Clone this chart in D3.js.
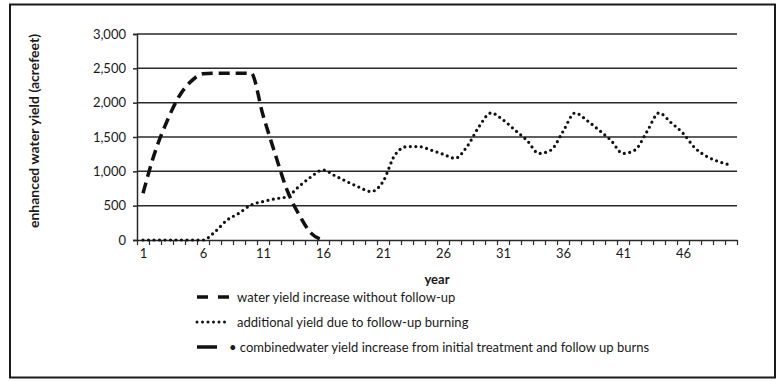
<!DOCTYPE html>
<html>
<head>
<meta charset="utf-8">
<script src="https://cdn.jsdelivr.net/npm/d3@7"></script>
<style>
  body { margin: 0; background: #fff; }
  svg text { font-family: Lato, "Liberation Sans", sans-serif; fill: #1a1a1a; }
</style>
</head>
<body>
<div id="chartDiv"></div>
<script>
// Data
const years = d3.range(1, 51);
const labelYears = [1, 6, 11, 16, 21, 26, 31, 36, 41, 46];
const yTicks = [0, 500, 1000, 1500, 2000, 2500, 3000];

// water yield increase without follow-up (years 1..16)
const noFollowUp = [680, 1280, 1730, 2090, 2310, 2420, 2430, 2430, 2430, 2430,
                    1820, 1260, 730, 370, 100, 0];

// additional yield due to follow-up burning (years 1..50)
const followUp = [0, 0, 0, 0, 0, 0, 120, 290, 390, 510,
                  560, 600, 630, 780, 920, 1020, 935, 850, 770, 705,
                  850, 1240, 1360, 1360, 1310, 1250, 1190, 1360, 1650, 1850,
                  1750, 1600, 1450, 1260, 1310, 1580, 1850, 1740, 1600, 1450,
                  1260, 1310, 1580, 1850, 1710, 1555, 1340, 1215, 1140, 1090];

const legendItems = [
  {label: "water yield increase without follow-up", dash: "11,10,11,100", cap: "butt", width: 3.5},
  {label: "additional yield due to follow-up burning", dash: "0,5.5", cap: "round", width: 3},
  {label: "\u2022 combinedwater yield increase from initial treatment and follow up burns", dash: "20,100", cap: "butt", width: 3.5}
];

const width = 778, height = 382;
const margin = {top: 34, right: 41, bottom: 142, left: 137};

let svg = d3.select("#chartDiv")
  .append("svg")
  .attr("width", width)
  .attr("height", height);

// outer frame
svg.append("rect")
  .attr("x", 10).attr("y", 4.5)
  .attr("width", 765).attr("height", 373)
  .attr("fill", "none")
  .attr("stroke", "#1a1a1a")
  .attr("stroke-width", 2);

let scaleX = d3.scaleLinear()
  .domain([0.5, 50.5])
  .range([margin.left, width - margin.right]);
let scaleY = d3.scaleLinear()
  .domain([0, 3000])
  .range([height - margin.bottom, margin.top]);

// gridlines
svg.append("g")
  .selectAll("line")
  .data(yTicks.slice(1))
  .enter()
  .append("line")
    .attr("x1", scaleX(0.5))
    .attr("x2", scaleX(50.5))
    .attr("y1", d => scaleY(d))
    .attr("y2", d => scaleY(d))
    .attr("stroke", "#2a2a2a")
    .attr("stroke-width", 1.5);

// y axis
let yAxis = svg.append("g")
  .attr("transform", "translate(" + margin.left + ",0)")
  .call(d3.axisLeft(scaleY).tickValues(yTicks).tickSize(4).tickPadding(7).tickFormat(d3.format(",")));
yAxis.select(".domain").attr("stroke", "#2a2a2a").attr("stroke-width", 1.5);
yAxis.selectAll(".tick line").attr("stroke", "#2a2a2a").attr("stroke-width", 1.5);
yAxis.selectAll("text").style("font-size", "13px");

// x axis: tick marks between categories
let xTicks = svg.append("g")
  .attr("transform", "translate(0," + scaleY(0) + ")")
  .call(d3.axisBottom(scaleX).tickValues(d3.range(0.5, 51, 1)).tickSize(5).tickSizeOuter(0).tickFormat(""));
xTicks.select(".domain").attr("stroke", "#2a2a2a").attr("stroke-width", 1.5);
xTicks.selectAll(".tick line").attr("stroke", "#2a2a2a").attr("stroke-width", 1.2);

// x labels
let xLabels = svg.append("g")
  .attr("transform", "translate(0," + scaleY(0) + ")")
  .call(d3.axisBottom(scaleX).tickValues(labelYears).tickSize(0).tickPadding(9));
xLabels.select(".domain").remove();
xLabels.selectAll("text").style("font-size", "13px");

// axis titles
svg.append("text")
  .attr("text-anchor", "middle")
  .attr("x", (scaleX(0.5) + scaleX(50.5)) / 2)
  .attr("y", 284)
  .style("font-size", "13px")
  .style("font-weight", "bold")
  .text("year");

svg.append("text")
  .attr("text-anchor", "middle")
  .attr("transform", "translate(39," + 131 + ") rotate(-90)")
  .style("font-size", "14px")
  .style("font-weight", "bold")
  .text("enhanced water yield (acrefeet)");

// series lines
let line = d3.line()
  .x((d, i) => scaleX(years[i]))
  .y(d => scaleY(d))
  .curve(d3.curveMonotoneX);

svg.append("path")
  .datum(followUp)
  .attr("d", line)
  .attr("fill", "none")
  .attr("stroke", "#111")
  .attr("stroke-width", 3.2)
  .attr("stroke-linecap", "round")
  .attr("stroke-dasharray", "0,5.5");

svg.append("path")
  .datum(noFollowUp)
  .attr("d", line)
  .attr("fill", "none")
  .attr("stroke", "#111")
  .attr("stroke-width", 3.5)
  .attr("stroke-dasharray", "11,6");

// legend
let legend = svg.selectAll(".legend")
  .data(legendItems)
  .enter()
  .append("g")
    .attr("class", "legend")
    .attr("transform", (d, i) => "translate(197," + (297 + i * 25) + ")");

legend.append("line")
  .attr("x1", 0).attr("x2", 33)
  .attr("y1", 0).attr("y2", 0)
  .attr("stroke", "#111")
  .attr("stroke-width", d => d.width)
  .attr("stroke-linecap", d => d.cap)
  .attr("stroke-dasharray", d => d.dash);

legend.append("text")
  .attr("x", d => d.label.startsWith("\u2022") ? 32 : 40)
  .attr("y", 0)
  .attr("dy", "0.35em")
  .style("font-size", "13px")
  .text(d => d.label);
</script>
</body>
</html>
